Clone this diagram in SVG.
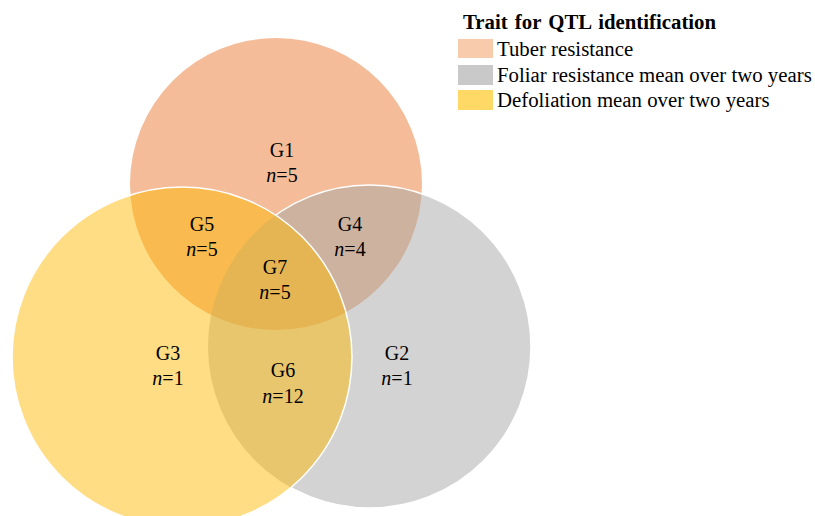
<svg xmlns="http://www.w3.org/2000/svg" width="815" height="516" viewBox="0 0 815 516">
<style>
text{font-family:"Liberation Serif","Times New Roman",serif;font-size:20px;fill:#000}
.c{text-anchor:middle}
.i{font-style:italic}
.l{font-size:20.8px}
.t{font-weight:bold;font-size:20.8px}
</style>
<defs>
<mask id="noYellow">
<rect x="0" y="0" width="815" height="516" fill="#fff"/>
<circle cx="182" cy="357" r="170" fill="#000"/>
</mask>
</defs>
<rect width="815" height="516" fill="#fff"/>
<g id="tuber">
<circle cx="276" cy="184" r="146" fill="#F4BC98"/>
</g>
<g id="foliar">
<circle cx="369.5" cy="346.5" r="161.5" fill="#A7A7A7" fill-opacity="0.5"/>
<circle cx="369.5" cy="346.5" r="161.5" fill="none" stroke="#fff" stroke-width="1.5" mask="url(#noYellow)"/>
</g>
<g id="defoliation">
<circle cx="182" cy="357" r="170" fill="#FFB800" fill-opacity="0.48" stroke="#fff" stroke-width="1.5"/>
</g>
<g id="labels">
<g id="G1"><text class="c" x="282" y="157">G1</text><text class="c" x="282" y="182"><tspan class="i">n</tspan>=5</text></g>
<g id="G5"><text class="c" x="202" y="231">G5</text><text class="c" x="202" y="256"><tspan class="i">n</tspan>=5</text></g>
<g id="G4"><text class="c" x="350" y="231">G4</text><text class="c" x="350" y="256"><tspan class="i">n</tspan>=4</text></g>
<g id="G7"><text class="c" x="275" y="274">G7</text><text class="c" x="275" y="299"><tspan class="i">n</tspan>=5</text></g>
<g id="G3"><text class="c" x="168" y="360">G3</text><text class="c" x="168" y="385"><tspan class="i">n</tspan>=1</text></g>
<g id="G6"><text class="c" x="283" y="377">G6</text><text class="c" x="283" y="403"><tspan class="i">n</tspan>=12</text></g>
<g id="G2"><text class="c" x="397" y="360">G2</text><text class="c" x="397" y="385"><tspan class="i">n</tspan>=1</text></g>
</g>
<g id="legend">
<text class="t" x="463" y="29" word-spacing="2">Trait for QTL identification</text>
<rect x="458" y="39" width="35" height="19" fill="#F8CBAD"/>
<text class="l" x="497" y="56">Tuber resistance</text>
<rect x="458" y="65" width="35" height="20" fill="#C9C9C9"/>
<text class="l" x="497" y="82">Foliar resistance mean over two years</text>
<rect x="458" y="90" width="35" height="20" fill="#FFD966"/>
<text class="l" x="497" y="107">Defoliation mean over two years</text>
</g>
<g id="connectors"/>
</svg>
